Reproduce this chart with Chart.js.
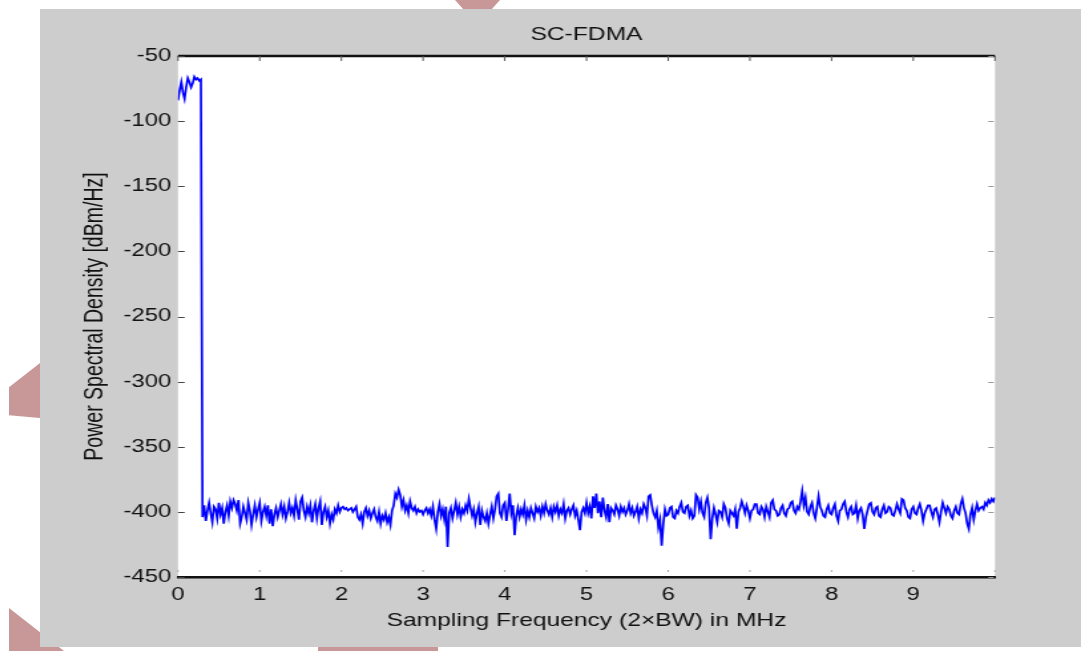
<!DOCTYPE html>
<html>
<head>
<meta charset="utf-8">
<title>SC-FDMA</title>
<script src="https://cdn.jsdelivr.net/npm/chart.js@4/dist/chart.umd.min.js"></script>
<style>
  html, body { margin: 0; padding: 0; background: #fff; }
  body { width: 1081px; height: 651px; position: relative; overflow: hidden; }
  .mark { position: absolute; background: #c89797; }
  #m1 { left: 9px; top: 363px; width: 31px; height: 55px; clip-path: polygon(0 44%, 100% 0, 100% 100%, 0 95%); }
  #m2 { left: 9px; top: 608px; width: 55px; height: 43px; clip-path: polygon(0 0, 100% 100%, 0 100%); }
  #m3 { left: 318px; top: 646px; width: 120px; height: 5px; }
  #m4 { left: 455px; top: 0; width: 45px; height: 10px; clip-path: polygon(0 0, 100% 0, 80% 100%, 20% 100%); }
  #panel { position: absolute; left: 40px; top: 9px; width: 1041px; height: 638px; background: #cdcdcd; overflow: hidden; }
  /* the source figure is stretched sideways, so draw narrow and widen */
  #wrap { width: 783px; height: 638px; transform: scaleX(1.3295); transform-origin: 0 0; }
</style>
</head>
<body>
<div class="mark" id="m1"></div>
<div class="mark" id="m2"></div>
<div class="mark" id="m3"></div>
<div class="mark" id="m4"></div>
<div id="panel"><div id="wrap"><canvas id="psdChart"></canvas></div></div>
<script>
// frequency grid (MHz)
var freqStart = 0;
var freqStep = 0.02;

// power spectral density (dBm/Hz), one value per grid step, 10 per row (0.2 MHz)
var psd = [
  -84, -76, -70, -78, -83, -74, -67, -70, -74, -71,
  -66, -68, -67, -69, -68, -404, -395, -407, -399, -393,
  -401, -408, -396, -398, -405, -393, -402, -397, -409, -400,
  -395, -403, -392, -397, -391, -394, -399, -391, -409, -404,
  -396, -401, -406, -393, -399, -410, -402, -395, -404, -398,
  -393, -407, -400, -396, -403, -395, -409, -398, -411, -402,
  -397, -404, -399, -394, -402, -396, -405, -400, -393, -401,
  -397, -403, -391, -398, -406, -392, -389, -399, -404, -396,
  -401, -395, -408, -399, -394, -405, -397, -392, -410, -400,
  -396, -404, -399, -409, -402, -406, -398, -401, -395, -400,
  -397, -396, -398, -397, -399, -398, -397, -400, -398, -396,
  -404, -406, -402, -409, -400, -397, -403, -399, -405, -401,
  -398, -404, -407, -400, -409, -403, -406, -401, -408, -404,
  -410, -399, -395, -386, -389, -383, -387, -396, -391, -399,
  -395, -401, -392, -397, -399, -396, -401, -398, -400, -399,
  -402, -399, -397, -401, -398, -403, -396, -406, -413, -400,
  -394, -403, -398, -406, -396, -427, -401, -397, -405, -399,
  -393, -402, -396, -404, -398, -401, -395, -399, -390, -397,
  -403, -398, -408, -401, -396, -410, -399, -404, -407, -401,
  -409, -402, -396, -405, -398, -388, -386, -401, -404, -395,
  -393, -407, -398, -386, -401, -395, -418, -403, -397, -404,
  -398, -402, -395, -406, -399, -404, -397, -401, -405, -396,
  -400, -397, -403, -396, -401, -394, -399, -402, -397, -404,
  -396, -400, -395, -403, -398, -401, -394, -405, -399, -397,
  -402, -398, -395, -403, -399, -406, -414, -400, -397, -401,
  -393, -401, -396, -405, -388, -397, -386, -401, -392, -404,
  -389, -399, -404, -394, -408, -397, -399, -402, -395, -398,
  -403, -396, -400, -397, -402, -399, -394, -401, -397, -403,
  -400, -396, -405, -398, -401, -394, -397, -403, -388, -387,
  -395, -401, -404, -399, -412, -406, -426, -409, -398, -403,
  -402, -397, -396, -404, -405, -399, -401, -396, -393, -400,
  -401, -396, -395, -403, -399, -405, -403, -387, -389, -398,
  -392, -401, -404, -393, -389, -397, -421, -405, -397, -402,
  -408, -399, -400, -404, -394, -397, -405, -409, -399, -401,
  -403, -398, -413, -400, -397, -392, -396, -401, -395, -399,
  -405, -399, -398, -394, -394, -401, -402, -396, -398, -404,
  -396, -400, -404, -393, -391, -398, -399, -403, -402, -397,
  -395, -401, -403, -398, -397, -393, -392, -399, -401, -396,
  -398, -392, -384, -395, -389, -400, -402, -396, -393, -401,
  -405, -397, -388, -396, -399, -403, -404, -398, -395, -401,
  -402, -397, -394, -403, -407, -399, -398, -394, -392, -400,
  -404, -398, -396, -402, -401, -395, -405, -399, -397, -402,
  -413, -404, -399, -394, -393, -400, -402, -397, -396, -403,
  -404, -398, -395, -401, -400, -396, -397, -402, -403, -399,
  -394, -398, -401, -390, -391, -397, -399, -404, -405, -398,
  -396, -401, -402, -397, -394, -399, -407, -401, -398, -395,
  -395, -400, -404, -398, -397, -402, -408, -400, -393, -397,
  -401, -396, -398, -403, -405, -399, -396, -401, -402, -394,
  -390, -397, -401, -409, -413, -402, -397, -406, -399, -394,
  -399, -397, -396, -398, -393, -395, -391, -393, -390, -392,
  -389
];

// axis tick values
var xTicks = [0, 1, 2, 3, 4, 5, 6, 7, 8, 9, 10];
var yTicks = [-450, -400, -350, -300, -250, -200, -150, -100, -50];

var points = psd.map(function (v, i) {
  return { x: +(freqStart + i * freqStep).toFixed(2), y: v };
});

var fontFamily = 'Liberation Sans, Arial, Helvetica, sans-serif';

// white plot area plus MATLAB-style frame and inner tick marks
var framePlugin = {
  id: 'frame',
  beforeDraw: function (chart) {
    var a = chart.chartArea, c = chart.ctx;
    c.save();
    c.fillStyle = '#ffffff';
    c.fillRect(a.left, a.top, a.right - a.left, a.bottom - a.top);
    c.restore();
  },
  afterDraw: function (chart) {
    var a = chart.chartArea, c = chart.ctx;
    var xs = chart.scales.x, ys = chart.scales.y;
    c.save();
    c.strokeStyle = '#111';
    c.lineWidth = 2.5;
    c.beginPath();
    c.moveTo(a.left, a.top);
    c.lineTo(a.right, a.top);
    c.stroke();
    c.lineWidth = 1;
    xTicks.forEach(function (t) {
      var px = xs.getPixelForValue(t);
      c.strokeStyle = '#555';
      c.beginPath(); c.moveTo(px, a.top); c.lineTo(px, a.top + 5); c.stroke();
      c.strokeStyle = '#aaa';
      c.beginPath(); c.moveTo(px, a.bottom - 7); c.lineTo(px, a.bottom - 5); c.stroke();
    });
    yTicks.forEach(function (t) {
      var py = Math.round(ys.getPixelForValue(t)) + 0.5;
      c.strokeStyle = '#444';
      c.beginPath(); c.moveTo(a.left, py); c.lineTo(a.left + 5, py); c.stroke();
      c.strokeStyle = '#999';
      c.beginPath(); c.moveTo(a.right - 5, py); c.lineTo(a.right - 1, py); c.stroke();
    });
    c.restore();
  }
};

var ctx = document.getElementById('psdChart');
var myChart = new Chart(ctx, {
  type: 'line',
  data: {
    datasets: [{
      data: points,
      borderColor: '#0000ff',
      borderWidth: 1.7,
      pointRadius: 0,
      tension: 0,
      fill: false
    }]
  },
  options: {
    responsive: true,
    maintainAspectRatio: false,
    animation: false,
    layout: { padding: { right: 64.7 } },
    plugins: {
      legend: { display: false },
      tooltip: { enabled: false },
      title: {
        display: true,
        text: 'SC-FDMA',
        fullSize: false,
        color: '#111',
        font: { family: fontFamily, size: 18.5, weight: 'normal' },
        padding: { top: 15, bottom: 9.8 }
      }
    },
    scales: {
      x: {
        type: 'linear',
        min: 0,
        max: 10,
        afterFit: function (s) { s.height = 70; },
        afterBuildTicks: function (s) { s.ticks = xTicks.map(function (v) { return { value: v }; }); },
        grid: { display: false, drawTicks: false },
        border: { display: true, color: '#111', width: 2.5 },
        ticks: {
          padding: 7,
          color: '#111',
          maxRotation: 0,
          font: { family: fontFamily, size: 18 },
          callback: function (v) { return v === 10 ? '' : v; }
        },
        title: {
          display: true,
          text: 'Sampling Frequency (2\u00d7BW) in MHz',
          color: '#111',
          font: { family: fontFamily, size: 18.5 },
          padding: { top: 0, bottom: 15 }
        }
      },
      y: {
        min: -450,
        max: -50,
        afterFit: function (s) { s.width = 103.8; },
        afterBuildTicks: function (s) { s.ticks = yTicks.map(function (v) { return { value: v }; }); },
        grid: { display: false, drawTicks: false },
        border: { display: false },
        ticks: {
          padding: 5,
          color: '#111',
          font: { family: fontFamily, size: 18 }
        },
        title: {
          display: true,
          text: 'Power Spectral Density [dBm/Hz]',
          color: '#111',
          font: { family: fontFamily, size: 19.5 },
          padding: { top: 29.7, bottom: 0 }
        }
      }
    }
  },
  plugins: [framePlugin]
});
</script>
</body>
</html>
